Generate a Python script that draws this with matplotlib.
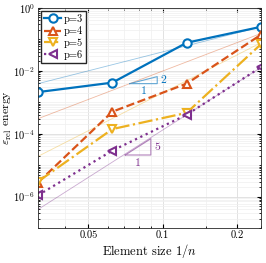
import matplotlib
matplotlib.use("Agg")
import matplotlib.pyplot as plt
import numpy as np
from matplotlib.ticker import LogLocator, FixedLocator, NullFormatter

plt.rcParams['font.family'] = 'serif'
plt.rcParams['font.serif'] = ['cmr10', 'DejaVu Serif']
plt.rcParams['mathtext.fontset'] = 'cm'
plt.rcParams['axes.formatter.use_mathtext'] = True

# element size 1/n
h = [1/32, 1/16, 1/8, 1/4]

# relative energy error per polynomial degree
err_p3 = [2.1e-3, 4.2e-3, 7.8e-2, 2.5e-1]
err_p4 = [2.8e-6, 5.0e-4, 3.9e-3, 1.4e-1]
err_p5 = [3.0e-6, 1.4e-4, 4.6e-4, 7.0e-2]
err_p6 = [1.1e-6, 2.9e-5, 4.0e-4, 1.3e-2]

# reference rates h^(p-1), value at h=1/32
ref_rate = [2, 3, 4, 5]
ref_start = [3.9e-3, 3.0e-4, 1.9e-5, 3.9e-7]

labels = ['p=3', 'p=4', 'p=5', 'p=6']
colors = ['#0072BD', '#D95319', '#EDB120', '#7E2F8E']
markers = ['o', '^', 'v', '<']
styles = ['-', '--', '-.', ':']

fig = plt.figure(figsize=(2.66, 2.63), dpi=100)
ax = fig.add_axes([0.143, 0.133, 0.838, 0.837])

hh = np.array(h)
for k in range(4):
    ref = ref_start[k] * (hh / hh[0]) ** ref_rate[k]
    ax.plot(hh, ref, '-', color=colors[k], lw=0.6, alpha=0.4)

for k, err in enumerate([err_p3, err_p4, err_p5, err_p6]):
    ax.plot(h, err, linestyle=styles[k], color=colors[k], marker=markers[k],
            mfc='white', mec=colors[k], ms=6, mew=1.5, lw=1.6, label=labels[k])

# slope triangles
def slope_tri(x0, x1, y0, rate, color, top, right):
    y1 = y0 * (x1 / x0) ** rate
    ax.plot([x0, x1, x1, x0], [y0, y0, y1, y0], color=color, lw=0.8, alpha=0.6)
    ax.text(np.sqrt(x0 * x1), y0 / top, '1', color=color, fontsize=8.5,
            ha='center', va='top')
    ax.text(x1 * right, np.sqrt(y0 * y1), str(rate), color=color, fontsize=8.5,
            ha='left', va='center')

slope_tri(0.0735, 0.095, 3.9e-3, 2, colors[0], 1.25, 1.03)
slope_tri(0.0705, 0.0895, 2.1e-5, 5, colors[3], 1.25, 1.03)

ax.set_xscale('log')
ax.set_yscale('log')
ax.set_xlim(1/32, 1/4)
ax.set_ylim(1e-7, 1e0)
ax.xaxis.set_major_locator(FixedLocator([0.05, 0.1, 0.2]))
ax.set_xticklabels(['0.05', '0.1', '0.2'])
ax.xaxis.set_minor_locator(FixedLocator(
    [0.04, 0.06, 0.07, 0.08, 0.09, 0.15, 0.25]))
ax.xaxis.set_minor_formatter(NullFormatter())
ax.yaxis.set_major_locator(FixedLocator([1e-6, 1e-4, 1e-2, 1e0]))
ax.yaxis.set_minor_locator(LogLocator(base=10, subs=np.arange(1, 10), numticks=20))
ax.yaxis.set_minor_formatter(NullFormatter())
ax.tick_params(which='both', direction='in', top=True, right=True, labelsize=7.5)
ax.tick_params(which='major', length=3, pad=2)
ax.tick_params(which='minor', length=1.5)
ax.grid(True, which='major', color='#dddddd', lw=0.6)
ax.grid(True, which='minor', color='#efefef', lw=0.5)
for s in ax.spines.values():
    s.set_color('#262626')
    s.set_linewidth(0.6)

ax.set_xlabel('Element size $1/n$', fontsize=9, labelpad=1)
ax.set_ylabel(r'$\varepsilon_{\rm rel}$ energy', fontsize=8.5)
ax.yaxis.set_label_coords(-0.11, 0.5)

ax.legend(loc='upper left', fontsize=7.5, handlelength=1.6, borderpad=0.3,
          labelspacing=0.2, handletextpad=0.3, fancybox=False,
          edgecolor='#262626', framealpha=1, borderaxespad=0.3)

fig.savefig('out.png', dpi=100)
